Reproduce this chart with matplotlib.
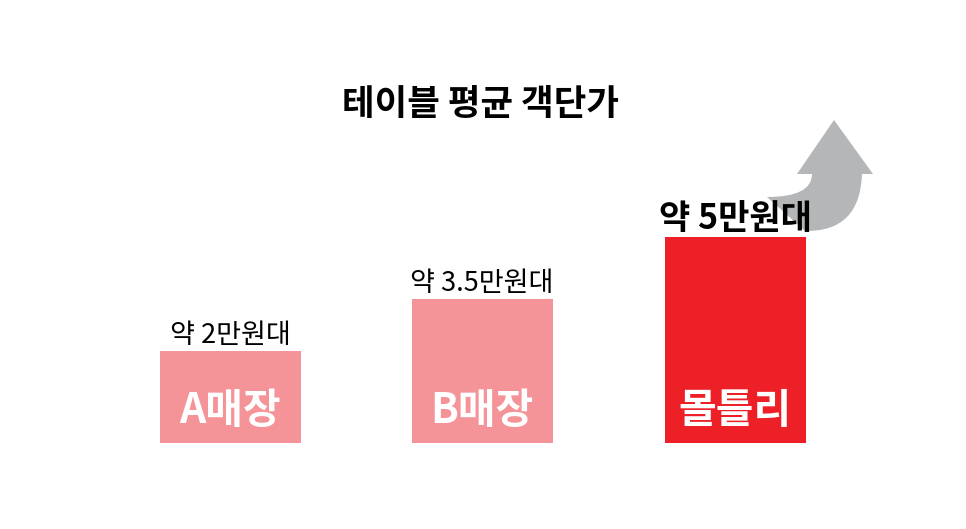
import matplotlib.pyplot as plt
from matplotlib.path import Path
from matplotlib.patches import PathPatch

plt.rcParams['font.family'] = ['Noto Sans CJK KR', 'DejaVu Sans']

# data
stores = ["A매장", "B매장", "몰틀리"]
price_labels = ["약 2만원대", "약 3.5만원대", "약 5만원대"]
bar_heights = [92, 144, 206]          # relative bar heights as drawn
bar_colors = ["#f49398", "#f49398", "#ed1f27"]
title = "테이블 평균 객단가"

W, H = 966, 529
BASE = 443                            # bar baseline, px from top
fig = plt.figure(figsize=(W / 100, H / 100), dpi=100)
ax = fig.add_axes([0, 0, 1, 1])
ax.set_xlim(0, W)
ax.set_ylim(BASE - H, BASE)
ax.set_axis_off()

xs = [230.5, 482, 735]
ax.bar(xs, bar_heights, width=141, color=bar_colors, zorder=3)

for i, (x, h) in enumerate(zip(xs, bar_heights)):
    last = i == len(xs) - 1
    ax.text(x, h + (1 if last else 2), price_labels[i], ha="center", va="bottom",
            fontsize=24.5 if last else 19.5, fontweight="bold" if last else "normal",
            color="black", zorder=5)
    ax.text(x, 32, stores[i], ha="center", va="center", fontsize=29.5,
            fontweight="bold", color="white", zorder=4)

ax.text(W / 2 - 2, BASE - 104, title, ha="center", va="center", fontsize=25.5,
        fontweight="bold", color="black")

# curved grey arrow pointing up (px from top converted to axis coords)
def p(x, y):
    return (x, BASE - y)

verts = [p(767, 197), p(812, 197), p(812, 174), p(797, 174), p(834, 120),
         p(873, 174), p(862, 174), p(860, 232), p(805, 231), p(767, 197)]
codes = [Path.MOVETO, Path.CURVE3, Path.CURVE3, Path.LINETO, Path.LINETO,
         Path.LINETO, Path.LINETO, Path.CURVE3, Path.CURVE3, Path.CLOSEPOLY]
ax.add_patch(PathPatch(Path(verts, codes), facecolor="#b4b6b8",
                       edgecolor="none", zorder=2))

fig.savefig("out.png", dpi=100)
